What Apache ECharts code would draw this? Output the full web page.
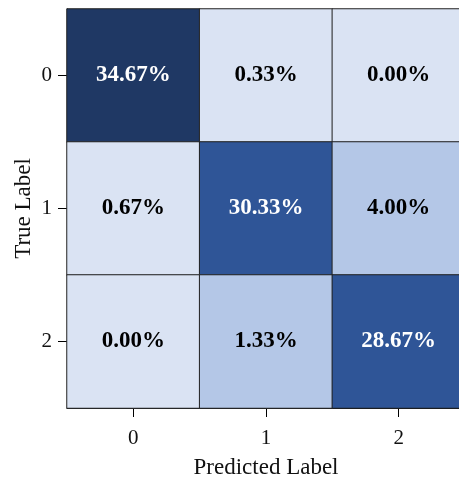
<!DOCTYPE html>
<html>
<head>
<meta charset="utf-8">
<script src="https://cdn.jsdelivr.net/npm/echarts@6/dist/echarts.min.js"></script>
<style>
  html, body { margin: 0; padding: 0; background: #fff; }
  #chart { width: 459px; height: 479px; }
</style>
</head>
<body>
<div id="chart"></div>
<script>
// Class labels for both axes
const classLabels = ['0', '1', '2'];

// Confusion matrix rows (true label), percentages per predicted label
const row0 = [34.67, 0.33, 0.00];
const row1 = [0.67, 30.33, 4.00];
const row2 = [0.00, 1.33, 28.67];
const matrixRows = [row0, row1, row2];

const FONT = '"Liberation Serif", "Times New Roman", serif';

// Heatmap triples: [predictedIndex, trueIndex, value]
const cells = [];
matrixRows.forEach((row, r) => {
  row.forEach((v, c) => {
    cells.push({
      value: [c, r, v],
      label: { color: v > 15 ? '#ffffff' : '#000000' }
    });
  });
});

const chart = echarts.init(document.getElementById('chart'), null, { renderer: 'canvas' });

chart.setOption({
  animation: false,
  backgroundColor: '#ffffff',
  grid: { left: 67, top: 9, width: 398, height: 399, outerBoundsMode: 'none', containLabel: false },
  xAxis: {
    type: 'category',
    data: classLabels,
    name: 'Predicted Label',
    nameLocation: 'middle',
    nameGap: 48,
    nameTextStyle: { fontFamily: FONT, fontSize: 23, color: '#111' },
    axisLine: { show: true, lineStyle: { color: '#000', width: 1 } },
    axisTick: { show: true, alignWithLabel: true, length: 9, lineStyle: { color: '#000' } },
    axisLabel: { fontFamily: FONT, fontSize: 21, color: '#111', margin: 20 },
    splitLine: { show: false },
    splitArea: { show: false }
  },
  yAxis: {
    type: 'category',
    data: classLabels,
    inverse: true,
    name: 'True Label',
    nameLocation: 'middle',
    nameGap: 32,
    nameMoveOverlap: false,
    nameRotate: 90,
    nameTextStyle: { fontFamily: FONT, fontSize: 23, color: '#111' },
    axisLine: { show: true, lineStyle: { color: '#000', width: 1 } },
    axisTick: { show: true, alignWithLabel: true, length: 9, lineStyle: { color: '#000' } },
    axisLabel: { fontFamily: FONT, fontSize: 21, color: '#111', margin: 15 },
    splitLine: { show: false },
    splitArea: { show: false }
  },
  visualMap: {
    show: false,
    type: 'piecewise',
    dimension: 2,
    pieces: [
      { min: 0, max: 1, color: '#dae3f3' },
      { min: 1, max: 15, color: '#b4c7e7' },
      { min: 15, max: 32, color: '#2f5597' },
      { min: 32, max: 100, color: '#1f3864' }
    ]
  },
  series: [{
    type: 'heatmap',
    data: cells,
    itemStyle: { borderColor: '#222', borderWidth: 1 },
    label: {
      show: true,
      fontFamily: FONT,
      fontSize: 23,
      fontWeight: 'bold',
      formatter: p => p.value[2].toFixed(2) + '%'
    },
    emphasis: { disabled: true }
  }]
});
</script>
</body>
</html>
